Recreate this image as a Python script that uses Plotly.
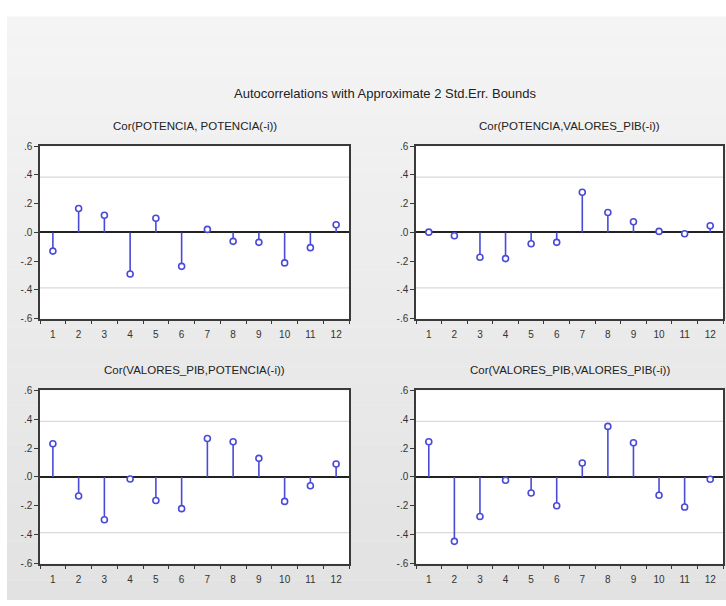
import plotly.graph_objects as go

# Lags and cross-correlations for the four pairs
lags = [str(i) for i in range(1, 13)]
cor_pot_pot = [-0.130, 0.166, 0.120, -0.289, 0.099, -0.236, 0.021, -0.062, -0.069, -0.212, -0.106, 0.053]
cor_pot_pib = [0.002, -0.023, -0.173, -0.182, -0.079, -0.069, 0.279, 0.139, 0.074, 0.007, -0.009, 0.046]
cor_pib_pot = [0.230, -0.131, -0.296, -0.014, -0.163, -0.219, 0.266, 0.244, 0.129, -0.169, -0.061, 0.090]
cor_pib_pib = [0.244, -0.445, -0.273, -0.023, -0.111, -0.199, 0.097, 0.350, 0.237, -0.126, -0.208, -0.016]
std_err_bound = 0.385  # approximate 2 standard errors

panel_titles = [
    "Cor(POTENCIA, POTENCIA(-i))",
    "Cor(POTENCIA,VALORES_PIB(-i))",
    "Cor(VALORES_PIB,POTENCIA(-i))",
    "Cor(VALORES_PIB,VALORES_PIB(-i))",
]
main_title = "Autocorrelations with Approximate 2 Std.Err. Bounds"
y_ticks = [0.6, 0.4, 0.2, 0.0, -0.2, -0.4, -0.6]
y_tick_labels = [".6", ".4", ".2", ".0", "-.2", "-.4", "-.6"]

W, H = 726, 606
STEM = "#4a4ad8"
FRAME = "#3a3a3a"
TXT = "#333333"

# plot areas in pixels (left, right, top, bottom)
boxes = [
    (40, 349, 143, 319),
    (416, 723, 143, 319),
    (40, 349, 392, 569),
    (416, 723, 392, 569),
]
series = [cor_pot_pot, cor_pot_pib, cor_pib_pot, cor_pib_pib]

fig = go.Figure()
shapes, annotations = [], []

# window background: white edge strips and a soft vertical grey gradient
shapes.append(dict(type="rect", xref="paper", yref="paper", x0=0, x1=1, y0=0, y1=1,
                   fillcolor="white", line=dict(width=0), layer="below"))
n_bands = 30
top_px, left_px = 11, 7
for i in range(n_bands):
    f = i / (n_bands - 1)
    g = round(0xf4 - f * (0xf4 - 0xe2))
    y_hi = 1 - (top_px + i * (H - top_px) / n_bands) / H
    y_lo = 1 - (top_px + (i + 1) * (H - top_px) / n_bands) / H
    shapes.append(dict(type="rect", xref="paper", yref="paper",
                       x0=left_px / W, x1=1, y0=y_lo, y1=y_hi + 0.0005,
                       fillcolor=f"rgb({g},{g},{g})", line=dict(width=0), layer="below"))

layout = dict(
    width=W, height=H,
    margin=dict(l=0, r=0, t=0, b=0),
    paper_bgcolor="white",
    plot_bgcolor="white",
    showlegend=False,
    font=dict(family="Liberation Sans, Arial, sans-serif", size=10, color=TXT),
)

for k, (vals, box, title) in enumerate(zip(series, boxes, panel_titles)):
    n = "" if k == 0 else str(k + 1)
    xa, ya = "x" + n, "y" + n
    l, r, t, b = box
    # stems from zero to each correlation
    xs, ys = [], []
    for lag, v in zip(lags, vals):
        xs += [lag, lag, None]
        ys += [0, v, None]
    fig.add_trace(go.Scatter(x=xs, y=ys, mode="lines", xaxis=xa, yaxis=ya,
                             line=dict(color=STEM, width=1.6), hoverinfo="skip"))
    fig.add_trace(go.Scatter(x=lags, y=vals, mode="markers", xaxis=xa, yaxis=ya,
                             marker=dict(symbol="circle", size=6, color="white",
                                         line=dict(width=1.6, color=STEM))))
    layout["xaxis" + n] = dict(
        domain=[l / W, r / W], anchor=ya, type="category",
        categoryorder="array", categoryarray=lags,
        range=[-0.5, 11.5], tickson="boundaries",
        ticks="outside", ticklen=4, tickwidth=1.2, tickcolor=FRAME,
        ticklabelstandoff=6,
        showline=True, linecolor=FRAME, linewidth=1.5, mirror=True,
        showgrid=False, zeroline=False, fixedrange=True,
        tickfont=dict(size=10, color=TXT),
    )
    layout["yaxis" + n] = dict(
        domain=[1 - b / H, 1 - t / H], anchor=xa,
        range=[-0.6, 0.6], tickvals=y_ticks, ticktext=y_tick_labels,
        ticks="outside", ticklen=4, tickwidth=1.2, tickcolor=FRAME,
        showline=True, linecolor=FRAME, linewidth=1.5, mirror=True,
        showgrid=False, zeroline=True, zerolinecolor="#222222", zerolinewidth=1.5,
        fixedrange=True, tickfont=dict(size=10, color=TXT),
    )
    # white plotting area above the window background
    shapes.append(dict(type="rect", xref=xa + " domain", yref=ya + " domain",
                       x0=0, x1=1, y0=0, y1=1, fillcolor="white",
                       line=dict(width=0), layer="below"))
    for sgn in (1, -1):
        shapes.append(dict(
            type="line", xref=xa + " domain", yref=ya, x0=0, x1=1,
            y0=sgn * std_err_bound, y1=sgn * std_err_bound,
            line=dict(color="#d9d9d9", width=1.2), layer="below"))
    annotations.append(dict(
        text=title, xref="paper", yref="paper",
        x=(l + r) / 2 / W, y=1 - (t - 21) / H, xanchor="center", yanchor="middle",
        showarrow=False, font=dict(size=11.5, color="#222222")))

annotations.append(dict(
    text=main_title, xref="paper", yref="paper",
    x=385 / W, y=1 - 89 / H, xanchor="center", yanchor="middle",
    showarrow=False, font=dict(size=13, color="#222222")))

layout["shapes"] = shapes
layout["annotations"] = annotations
fig.update_layout(**layout)
fig.write_html("out.html")
